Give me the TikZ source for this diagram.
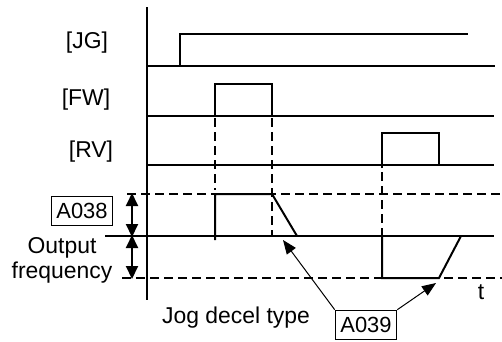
\documentclass[tikz,border=0pt]{standalone}
\usepackage{fontspec}
\setmainfont{Liberation Sans}
\usetikzlibrary{arrows.meta}
\begin{document}
\begin{tikzpicture}[x=1bp,y=-1bp,
  lbl/.style={font=\fontsize{23}{25}\selectfont, inner sep=0pt},
  boxlbl/.style={draw, line width=1.6pt, font=\fontsize{22}{24}\selectfont, inner sep=1pt, minimum height=29bp, minimum width=61bp},
  sig/.style={line width=2pt},
  axis/.style={line width=3pt},
  dsh/.style={line width=2pt, dash pattern=on 9bp off 5bp},
  ptr/.style={line width=1pt, -{Triangle[length=14bp,width=11bp]}},
  dbl/.style={line width=2pt, {Triangle[length=13bp,width=12bp]}-{Triangle[length=13bp,width=12bp]}, shorten <=-1pt, shorten >=-1pt}
]
\useasboundingbox (0,0) rectangle (502,341);
% labels
\node[lbl] (jg) at (87,43) {[JG]};
\node[lbl] (fw) at (86,100) {[FW]};
\node[lbl] (rv) at (91,152) {[RV]};
\node[boxlbl] (a038) at (82,211) {A038};
\node[lbl] (out) at (62,248) {Output};
\node[lbl] (freq) at (62,273) {frequency};
\node[lbl] (jog) at (236,318) {Jog decel type};
\node[boxlbl] (a039) at (366,325) {A039};
\node[lbl] (t) at (481,292) {t};
% axis
\coordinate (axtop) at (147,7);
\coordinate (axbot) at (147,300);
\draw[axis] (axtop) -- (axbot);
% JG
\draw[sig] (147,66) -- (495,66);
\draw[sig] (180,66) -- (180,34) -- (468,34);
% FW
\draw[sig] (147,116) -- (494,116);
\draw[sig] (215,116) -- (215,84) -- (272,84) -- (272,116);
% RV
\draw[sig] (147,165) -- (494,165);
\draw[sig] (382,168) -- (382,133) -- (439,133) -- (439,165);
% frequency reference lines
\draw[dsh] (127,194) -- (502,194);
\draw[sig] (105,236) -- (494,236);
\draw[dsh] (122,278) -- (502,278);
% dashed verticals
\draw[dsh] (215,118) -- (215,190);
\draw[dsh] (272,118) -- (272,236);
\draw[dsh] (382,172) -- (382,236);
% output waveforms
\draw[sig] (215,240) -- (215,194) -- (272,194) -- (297,236);
\draw[sig] (382,236) -- (382,278) -- (439,278) -- (461,236);
% A038 arrows
\coordinate (f1) at (132,194);
\coordinate (f0) at (132,236);
\coordinate (f2) at (132,278);
\draw[dbl] (f1) -- (f0);
\draw[dbl] (f0) -- (f2);
% A039 pointers
\coordinate (p1) at (283,240);
\coordinate (p2) at (436,283);
\draw[ptr] (a039.north west) -- (p1);
\draw[ptr] (a039.north east) -- (p2);
\end{tikzpicture}
\end{document}
